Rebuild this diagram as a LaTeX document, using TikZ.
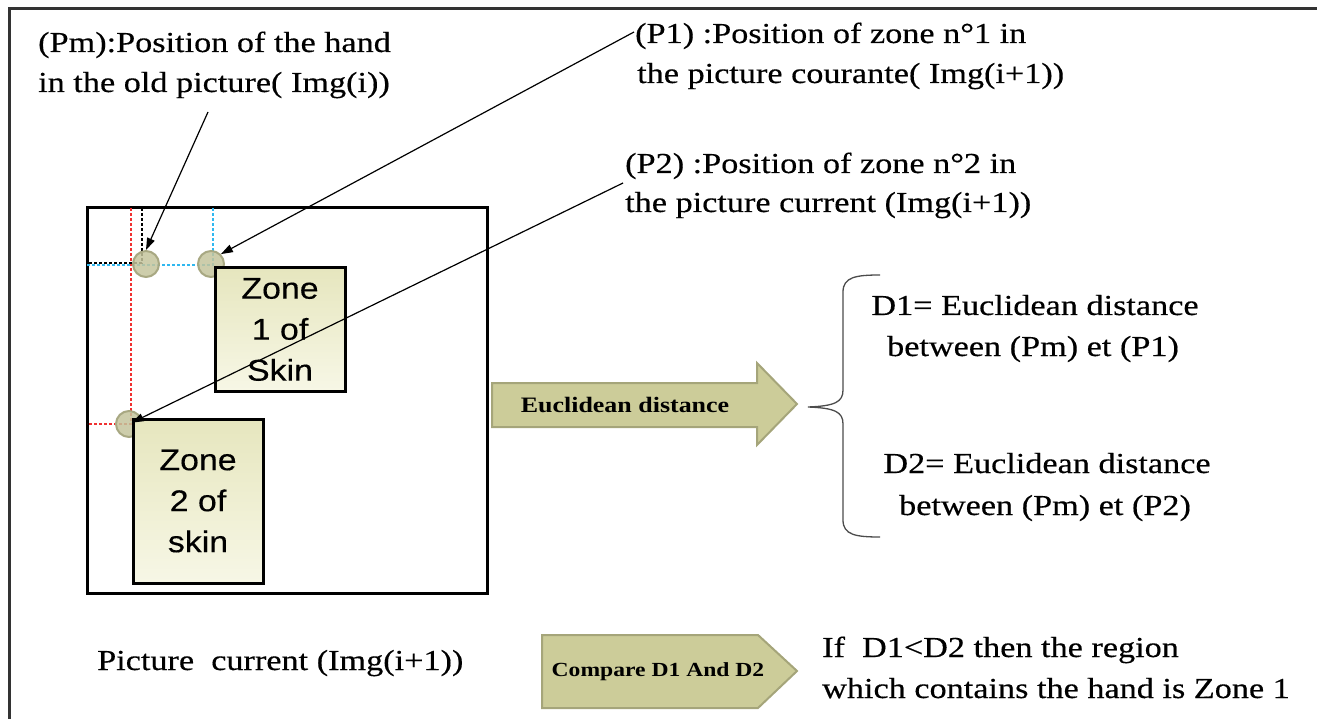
\documentclass[tikz,border=0pt]{standalone}
\usepackage{fontspec}
\setmainfont{Liberation Serif}[FakeStretch=1.18, UprightFeatures={FakeBold=0.4}]
\newfontfamily\zonefont{Liberation Sans}[FakeStretch=1.13, FakeBold=0.3]
\usetikzlibrary{arrows.meta}
\definecolor{olive1}{HTML}{CCCC99}
\definecolor{olive2}{HTML}{A5A57A}
\definecolor{ztop}{HTML}{E6E6BE}
\definecolor{zbot}{HTML}{F7F7E6}
\definecolor{circfill}{HTML}{C4C49C}
\definecolor{circdraw}{HTML}{A8A882}
\definecolor{dred}{HTML}{F03030}
\definecolor{dblue}{HTML}{30B8F0}
\tikzset{
  txt/.style={inner sep=0pt, font=\fontsize{29}{41}\selectfont},
  txtl/.style={txt, anchor=base west},
  txtc/.style={txt, anchor=base},
  zonebox/.style={draw=black, line width=3pt, top color=ztop, bottom color=zbot,
    align=center, font=\zonefont\fontsize{30}{41}\selectfont, inner sep=0pt},
  spot/.style={circle, minimum size=26pt, inner sep=0pt, fill=circfill, fill opacity=0.85, draw=circdraw, line width=2pt},
  arr/.style={line width=1.2pt, -{Triangle[length=12pt,width=8pt]}},
  dsh/.style={line width=1.1pt, dash pattern=on 3pt off 2pt},
  bigarrow/.style={fill=olive1, draw=olive2, line width=2pt},
  arrlabel/.style={inner sep=0pt, font=\bfseries}
}
\begin{document}
\begin{tikzpicture}[x=1pt,y=-1pt]
\useasboundingbox (0,0) rectangle (1317,719);
% outer frame
\draw[line width=3pt, black!80] (9,730) -- (9,9) -- (1330,9);

% picture box
\node[draw, line width=3pt, minimum width=400pt, minimum height=385pt, inner sep=0pt] (picbox) at (287,400.5) {};

% dashed guide lines
\draw[dsh, dred] (131,208) -- (131,424) -- (87,424);
\draw[dsh, black] (142,208) -- (142,263) -- (87,263);
\draw[dsh, dblue] (87,265) -- (213,265) -- (213,208);

% spots
\node[spot] (pm) at (146,264) {};
\node[spot] (p1) at (211,264) {};
\node[spot] (p2) at (129,424) {};

% zones
\node[zonebox, minimum width=130pt, minimum height=123pt] (z1) at (280,329.5) {Zone\\1 of\\Skin};
\node[zonebox, minimum width=130pt, minimum height=164pt] (z2) at (198,501) {Zone\\2 of\\skin};

% top texts
\node[txtl] (pmA) at (38,52) {(Pm):Position of the hand};
\node[txtl] (pmB) at (38,92) {in the old picture( Img(i))};
\node[txtl] (p1A) at (635,43) {(P1) :Position of zone n°1 in};
\node[txtl] (p1B) at (637,83) {the picture courante( Img(i+1))};
\node[txtl] (p2A) at (625,173) {(P2) :Position of zone n°2 in};
\node[txtl] (p2B) at (625,212) {the picture current (Img(i+1))};

\coordinate (pmS) at (208,112);
\coordinate (p1S) at (634,32);
\coordinate (p2S) at (623,183);
\draw[arr] (pmS) -- (pm.north);
\draw[arr] (p1S) -- (p1.north east);
\draw[arr, shorten >=3pt] (p2S) -- (p2.center);

% Euclidean distance arrow
\draw[bigarrow] (492,383) -- (757,383) -- (757,363) -- (797,404) -- (757,445) -- (757,427) -- (492,427) -- cycle;
\node[arrlabel, font=\bfseries\fontsize{22}{26}\selectfont] (eu) at (625,405) {Euclidean distance};

% brace
\draw[line width=1.3pt, black!70] (880,275) .. controls (856,275) and (843,277) .. (843,292) -- (843,390) .. controls (843,402) and (835,406) .. (808,407) .. controls (835,408) and (843,412) .. (843,424) -- (843,520) .. controls (843,535) and (856,537) .. (880,537);

\node[txtc] (d1A) at (1035,315) {D1= Euclidean distance};
\node[txtc] (d1B) at (1033,356) {between (Pm) et (P1)};
\node[txtc] (d2A) at (1047,473) {D2= Euclidean distance};
\node[txtc] (d2B) at (1045,515) {between (Pm) et (P2)};

% bottom
\node[txtl] (pic) at (97,670) {Picture\ \ current (Img(i+1))};
\draw[bigarrow] (542,635) -- (758,635) -- (797,671) -- (758,708) -- (542,708) -- cycle;
\node[arrlabel, font=\bfseries\fontsize{20}{24}\selectfont] (cmp) at (658,672) {Compare D1 And D2};
\node[txtl] (ifA) at (822,657) {If\ \ D1<D2 then the region};
\node[txtl] (ifB) at (822,698) {which contains the hand is Zone 1};
\end{tikzpicture}
\end{document}
